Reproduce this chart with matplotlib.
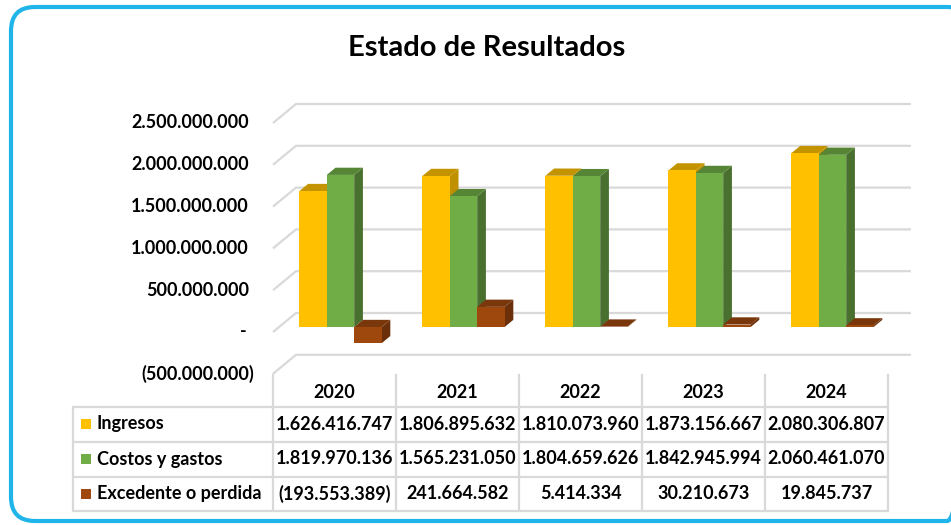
import matplotlib
matplotlib.use('Agg')
import matplotlib.pyplot as plt
from matplotlib.patches import FancyBboxPatch, Rectangle

# ---------------- data ----------------
years = ['2020', '2021', '2022', '2023', '2024']
series_names = ['Ingresos', 'Costos y gastos', 'Excedente o perdida']
ingresos = [1626416747, 1806895632, 1810073960, 1873156667, 2080306807]
costos = [1819970136, 1565231050, 1804659626, 1842945994, 2060461070]
excedente = [-193553389, 241664582, 5414334, 30210673, 19845737]
ytick_values = [-500000000, 0, 500000000, 1000000000, 1500000000, 2000000000, 2500000000]
title = 'Estado de Resultados'

series = [ingresos, costos, excedente]
front_colors = ['#FFC000', '#70AD47', '#9E480E']
top_colors = ['#C49400', '#558535', '#7A370C']
side_colors = ['#BF9000', '#4A7030', '#6B300A']
grid_color = '#D9D9D9'
FONT = 'Lato'
FS = 13

def fmt(v):
    if v == 0:
        return '-'
    s = f"{abs(v):,}".replace(',', '.')
    return f"({s})" if v < 0 else s

W, H = 951, 525
fig = plt.figure(figsize=(W / 100, H / 100), dpi=100)
fig.patch.set_facecolor('white')

def fx(px):
    return px / W

def fy(py):
    return 1 - py / H

# overlay in pixel coordinates (frame, title, table)
ov = fig.add_axes([0, 0, 1, 1], zorder=0)
ov.set_xlim(0, W)
ov.set_ylim(H, 0)
ov.axis('off')
ov.patch.set_alpha(0)

frame = FancyBboxPatch((11, 7), 960, 514, boxstyle='round,pad=0,rounding_size=24',
                       fill=False, edgecolor='#1FB4EA', linewidth=3.0)
ov.add_patch(frame)

ov.text(487, 48, title, ha='center', va='center', fontsize=21, fontweight='bold',
        family=FONT, color='black')

# ---------------- main 3D-like bar axes (front plane) ----------------
x_left, x_right = 273, 888
y_top_px, y_bot_px = 123.0, 373.8
ax = fig.add_axes([fx(x_left), fy(y_bot_px), (x_right - x_left) / W, (y_bot_px - y_top_px) / H],
                  zorder=1)
n = len(years)
ax.set_xlim(-0.5, n - 0.5)
ax.set_ylim(ytick_values[0], ytick_values[-1])
ax.axis('off')
ax.patch.set_alpha(0)

px_per_x = (x_right - x_left) / n
px_per_y = (y_bot_px - y_top_px) / (ytick_values[-1] - ytick_values[0])
DX = 23 / px_per_x
DY = 19 / px_per_y

# gridlines (left wall + back wall)
for v in ytick_values:
    ax.plot([-0.5, -0.5 + DX, n - 0.5 + DX], [v, v + DY, v + DY], color=grid_color,
            lw=1.6, clip_on=False, zorder=1, solid_capstyle='butt')

# y tick labels (accounting style)
for v in ytick_values:
    xr = 249 if v > 0 else (247 if v == 0 else 254)
    ax.text((xr - x_left) / (x_right - x_left), v, fmt(v), transform=ax.get_yaxis_transform(),
            ha='right', va='center', fontsize=FS, fontweight='bold', family=FONT)

# bars
bw = 27.4 / px_per_x
f0 = 0.26
t = 0.38
zo = 2
for i in range(n):
    for j, s in enumerate(series):
        v = s[i]
        L = i - 1.5 * bw + j * bw + f0 * DX
        base = f0 * DY
        yt = max(v, 0) + base
        yb = min(v, 0) + base
        # side face
        ax.fill([L + bw, L + bw, L + bw + t * DX, L + bw + t * DX],
                [yb, yt, yt + t * DY, yb + t * DY], color=side_colors[j], lw=0,
                zorder=zo, clip_on=False)
        # top face
        ax.fill([L, L + bw, L + bw + t * DX, L + t * DX],
                [yt, yt, yt + t * DY, yt + t * DY], color=top_colors[j], lw=0,
                zorder=zo, clip_on=False)
        # front face
        ax.bar(L, v, bottom=base, width=bw, align='edge', color=front_colors[j],
               lw=0, zorder=zo, clip_on=False)
        zo += 1

# ---------------- data table ----------------
col_x = [x_left + px_per_x * k for k in range(n + 1)]
tab_left = 73
head_top = 375
rows_y = [407, 442, 477, 511]
for y in rows_y:
    ov.plot([tab_left, col_x[-1]], [y, y], color=grid_color, lw=1.6, solid_capstyle='butt')
ov.plot([tab_left, tab_left], [rows_y[0], rows_y[-1]], color=grid_color, lw=1.6)
for x in col_x:
    ov.plot([x, x], [head_top, rows_y[-1]], color=grid_color, lw=1.6)

for k, yr in enumerate(years):
    cx = (col_x[k] + col_x[k + 1]) / 2
    ov.text(cx, 392, yr, ha='center', va='center', fontsize=FS, fontweight='bold', family=FONT)

for r, (name, s) in enumerate(zip(series_names, series)):
    cy = (rows_y[r] + rows_y[r + 1]) / 2 - 0.5
    ov.add_patch(Rectangle((81, cy - 5), 10, 10, color=front_colors[r], lw=0))
    ov.text(97, cy, name, ha='left', va='center', fontsize=FS, fontweight='bold', family=FONT)
    for k in range(n):
        cx = (col_x[k] + col_x[k + 1]) / 2
        ov.text(cx, cy, fmt(s[k]), ha='center', va='center', fontsize=FS,
                fontweight='bold', family=FONT)

fig.savefig('out.png', dpi=100, facecolor='white')
